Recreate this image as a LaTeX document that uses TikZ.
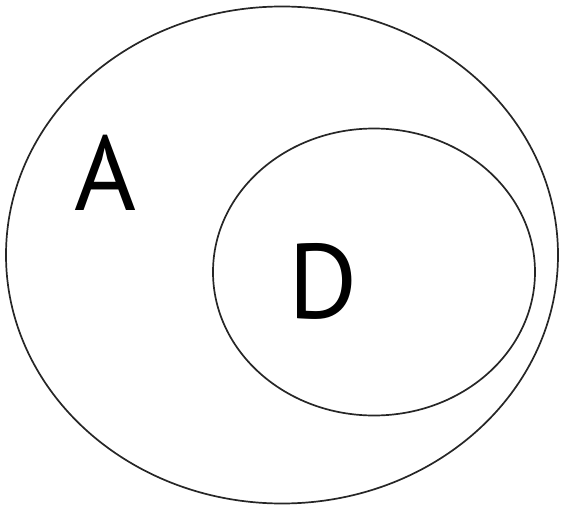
\documentclass[tikz,border=0pt]{standalone}
\usepackage{fontspec}
\setmainfont{PT Sans}
\usepackage{tikz}
\usetikzlibrary{positioning}

\begin{document}
\begin{tikzpicture}[x=1pt, y=-1pt,
  setline/.style={draw=black!85, line width=1.7pt},
  setlabel/.style={inner sep=0pt, font=\fontsize{106}{110}\selectfont}]
\useasboundingbox (0,0) rectangle (563,506);
\draw[setline] (282,255) ellipse [x radius=276, y radius=248.5];
\draw[setline] (374,272) ellipse [x radius=161, y radius=143.5];
\node[setlabel] (labA) at (106,173) {A};
\node[setlabel] (labD) at (323,281) {D};
\end{tikzpicture}
\end{document}
